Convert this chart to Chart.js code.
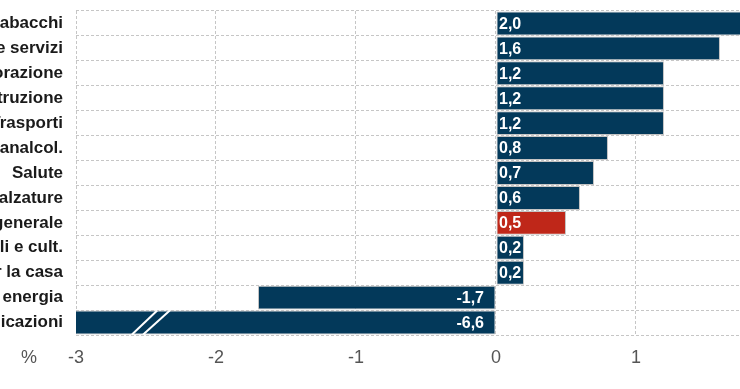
<!DOCTYPE html>
<html>
<head>
<meta charset="utf-8">
<script src="https://cdn.jsdelivr.net/npm/chart.js@4.4.1/dist/chart.umd.min.js"></script>
<style>
  html, body { margin: 0; padding: 0; background: #fff; }
  #wrap { width: 740px; height: 389px; position: relative; }
</style>
</head>
<body>
<div id="wrap"><canvas id="c" width="740" height="389"></canvas></div>
<script>
// ---- data ----
const categories = [
  "Bevande alcoliche e tabacchi",
  "Altri beni e servizi",
  "Servizi ricettivi e di ristorazione",
  "Istruzione",
  "Trasporti",
  "Prodotti alimentari e bevande analcol.",
  "Salute",
  "Abbigliamento e calzature",
  "Indice generale",
  "Ricreazione, spettacoli e cult.",
  "Mobili, articoli e servizi per la casa",
  "Abitazione, acqua, elettricità e energia",
  "Comunicazioni"
];
const values = [2.0, 1.6, 1.2, 1.2, 1.2, 0.8, 0.7, 0.6, 0.5, 0.2, 0.2, -1.7, -6.6];
const highlightCategory = "Indice generale";
const xTickValues = [-3, -2, -1, 0, 1];
const axisMin = -3;
const axisMax = 1.743;
const breakStart = [-2.6, -2.52];   // break marks on the truncated bar (value at bottom)
const breakEnd = [-2.42, -2.33];    // (value at top)
const unitLabel = "%";

// ---- styles ----
const NAVY = "#03395a";
const RED = "#bf2719";
const FONT = "'Liberation Sans', Arial, sans-serif";

const barColors = categories.map(c => c === highlightCategory ? RED : NAVY);

const labelsPlugin = {
  id: 'valueLabels',
  afterDatasetsDraw(chart) {
    const ctx = chart.ctx;
    const meta = chart.getDatasetMeta(0);
    const xs = chart.scales.x;
    const zero = xs.getPixelForValue(0);
    ctx.save();
    // break marks on truncated bars
    meta.data.forEach((bar, i) => {
      if (values[i] < axisMin) {
        const top = bar.y - bar.height / 2;
        const bot = bar.y + bar.height / 2;
        ctx.strokeStyle = '#ffffff';
        ctx.lineWidth = 2;
        for (let k = 0; k < breakStart.length; k++) {
          ctx.beginPath();
          ctx.moveTo(xs.getPixelForValue(breakStart[k]), bot);
          ctx.lineTo(xs.getPixelForValue(breakEnd[k]), top);
          ctx.stroke();
        }
      }
    });
    ctx.font = "bold 16px " + FONT;
    ctx.fillStyle = '#ffffff';
    ctx.textBaseline = 'middle';
    meta.data.forEach((bar, i) => {
      const v = values[i];
      const txt = v.toFixed(1).replace('.', ',');
      if (v >= 0) {
        ctx.textAlign = 'left';
        ctx.fillText(txt, zero + 3, bar.y + 1);
      } else {
        ctx.textAlign = 'right';
        ctx.fillText(txt, zero - 12, bar.y + 1);
      }
    });
    // unit label
    ctx.font = "18px " + FONT;
    ctx.fillStyle = '#555555';
    ctx.textAlign = 'center';
    ctx.textBaseline = 'top';
    ctx.fillText(unitLabel, 29, chart.chartArea.bottom + 14);
    ctx.restore();
  }
};

new Chart(document.getElementById('c'), {
  type: 'bar',
  data: {
    labels: categories,
    datasets: [{
      data: values,
      backgroundColor: barColors,
      borderColor: '#c4c4c4',
      borderWidth: 1,
      borderSkipped: false,
      barPercentage: 0.96,
      categoryPercentage: 1.0
    }]
  },
  options: {
    indexAxis: 'y',
    responsive: false,
    animation: false,
    layout: { padding: { top: 11, right: 0, left: 0, bottom: 0 } },
    plugins: { legend: { display: false }, tooltip: { enabled: false } },
    scales: {
      x: {
        type: 'linear',
        min: axisMin,
        max: axisMax,
        afterBuildTicks: (scale) => { scale.ticks = xTickValues.map(v => ({ value: v })); },
        ticks: {
          font: { family: FONT, size: 18 },
          color: '#555555',
          padding: 12,
          callback: (v) => String(v)
        },
        grid: { color: '#c6c6c6', lineWidth: 1, drawTicks: false },
        border: { display: false, dash: [3, 2] },
        afterFit: (scale) => { scale.height = 54; scale.paddingLeft = 0; scale.paddingRight = 0; }
      },
      y: {
        type: 'category',
        offset: true,
        ticks: {
          font: { family: FONT, size: 17, weight: 'bold' },
          color: '#1a1a1a',
          padding: 13,
          autoSkip: false
        },
        grid: { offset: true, color: '#c6c6c6', lineWidth: 1, drawTicks: false },
        border: { display: false, dash: [3, 2] },
        afterFit: (scale) => { scale.width = 76; scale.paddingTop = 0; scale.paddingBottom = 0; }
      }
    }
  },
  plugins: [labelsPlugin]
});
</script>
</body>
</html>
